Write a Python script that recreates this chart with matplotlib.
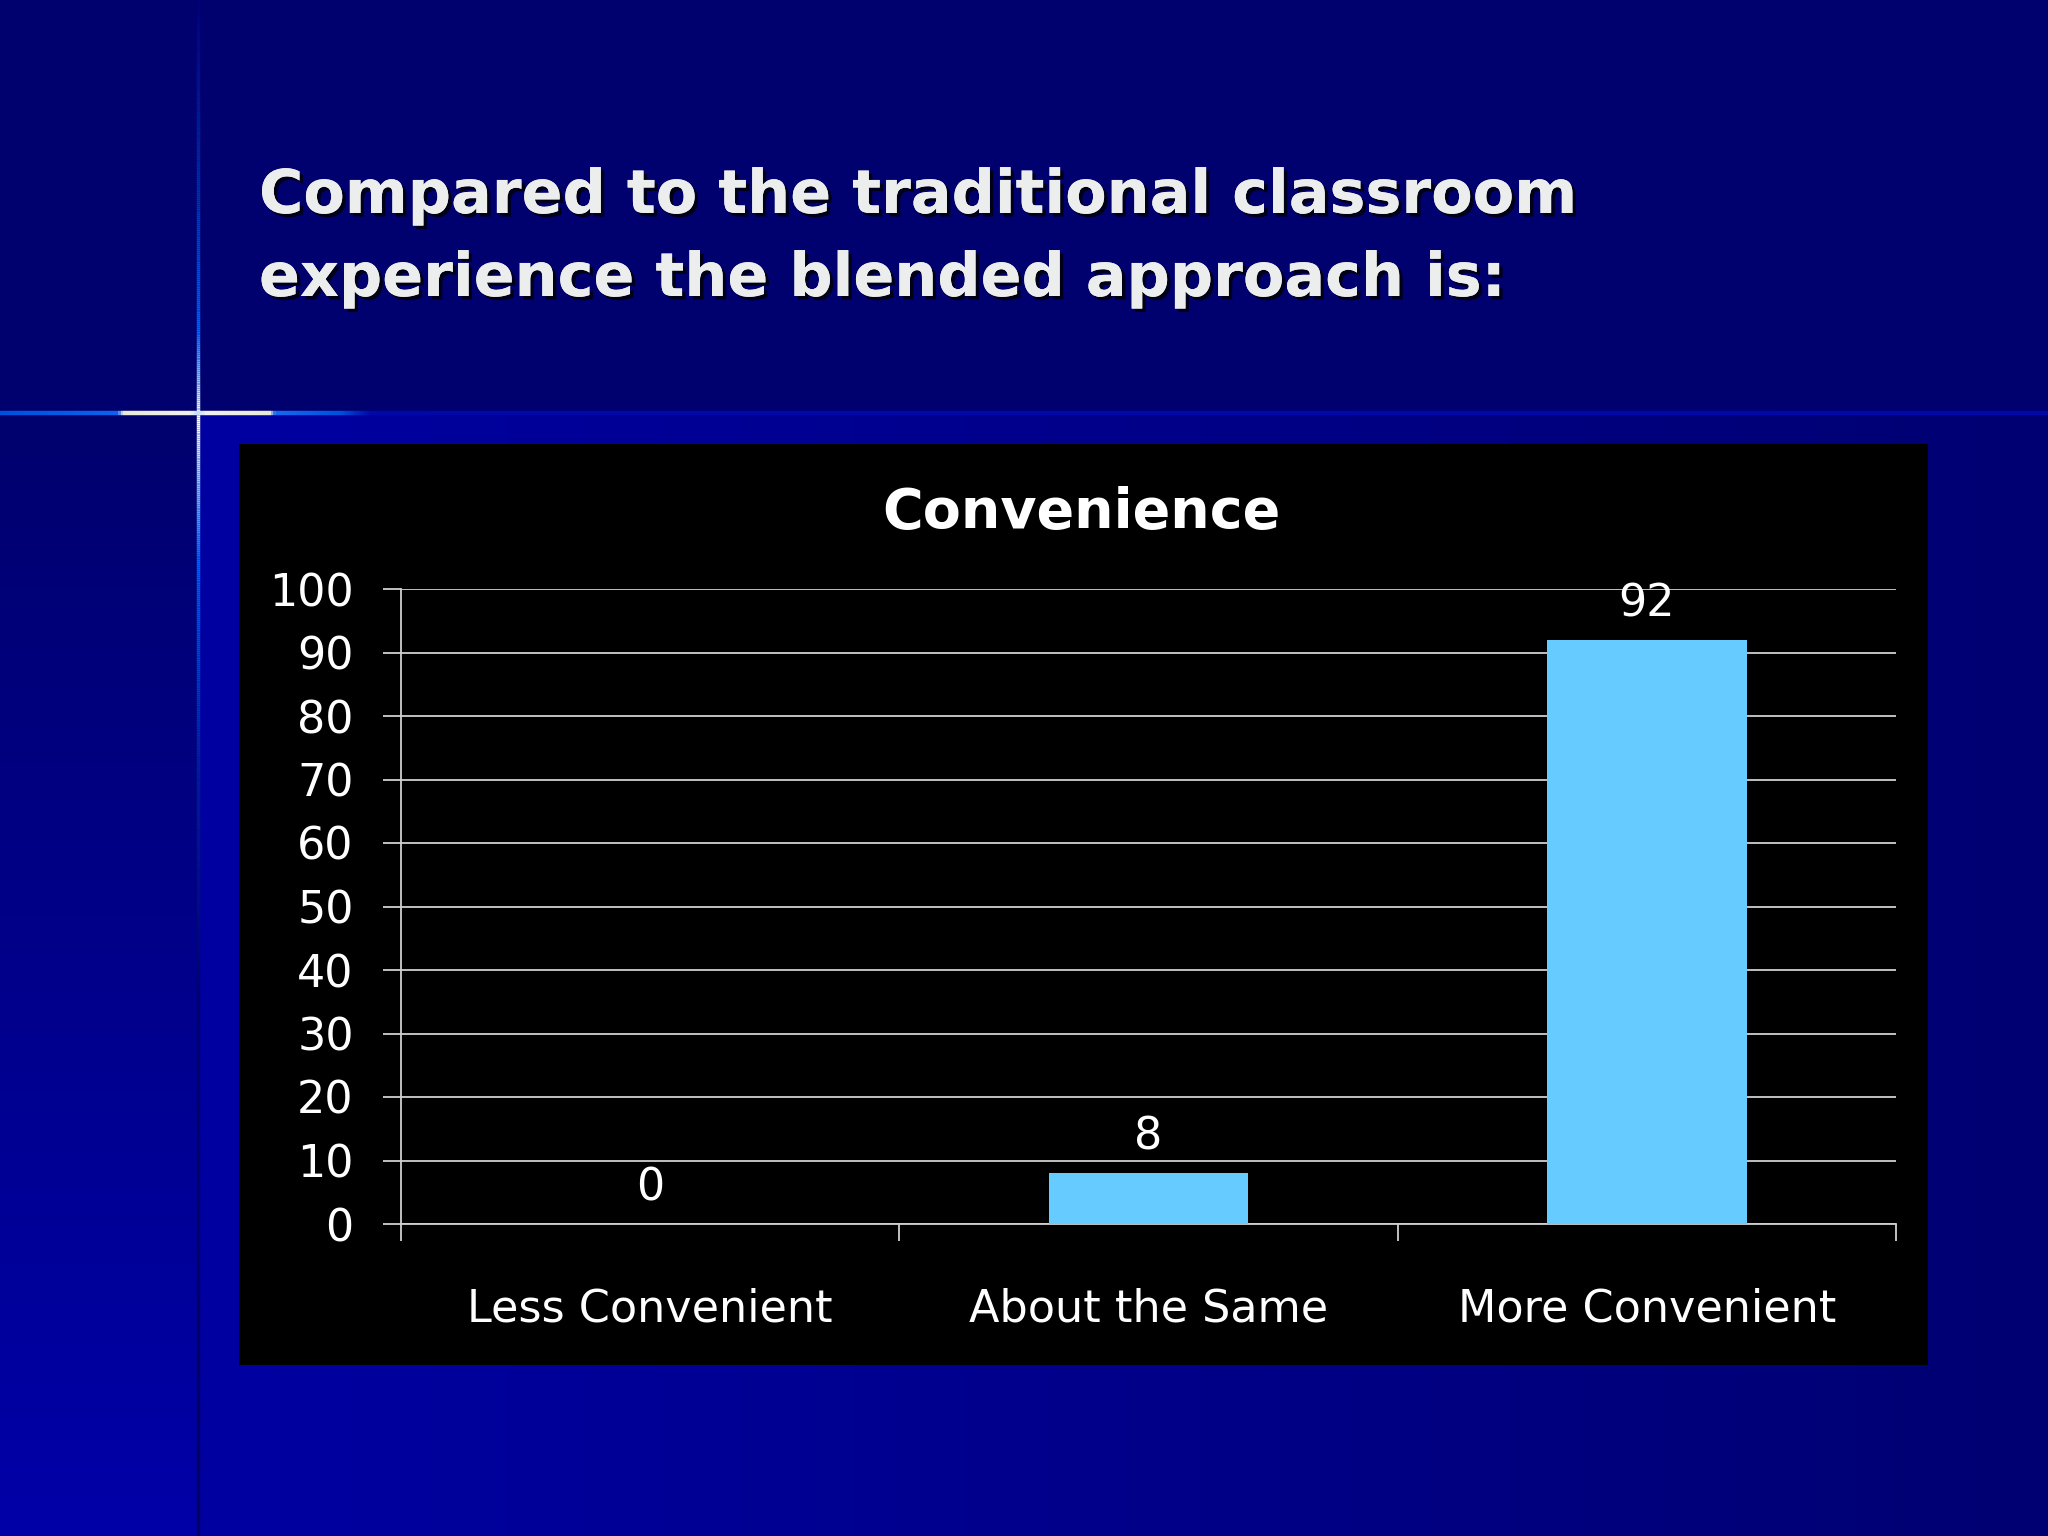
import numpy as np
import matplotlib
matplotlib.use('Agg')
import matplotlib.pyplot as plt
from matplotlib.collections import LineCollection
from matplotlib.colors import to_rgb
from matplotlib.patches import Rectangle
import matplotlib.patheffects as pe

# ---- data ----
categories = ['Less Convenient', 'About the Same', 'More Convenient']
values = [0, 8, 92]
yticks = list(range(0, 101, 10))
chart_title = 'Convenience'
slide_title = ['Compared to the traditional classroom',
               'experience the blended approach is:']

W, H = 2048, 1536
fig = plt.figure(figsize=(20.48, 15.36), dpi=100)

# ---- slide background ----
bg = fig.add_axes([0, 0, 1, 1])
bg.set_xlim(0, W)
bg.set_ylim(H, 0)
bg.axis('off')

img = np.zeros((H, W, 3))
yy, xx = np.mgrid[0:H, 0:W]
img[..., 2] = 0x6e / 255
lower = yy >= 413
right = xx >= 199
t = (xx - 199) / (W - 199)
blue_r = 0xa2 / 255 * (1 - t) + 0x72 / 255 * t
ch = img[..., 2]
m1 = lower & right
ch[m1] = blue_r[m1]
tv = (yy - 413) / (H - 413)
blue_l = 0x6e / 255 * (1 - tv) + 0xa8 / 255 * tv
m2 = lower & ~right
ch[m2] = blue_l[m2]
bg.imshow(img, extent=(0, W, H, 0), aspect='auto', interpolation='bilinear', zorder=0)


def grad_segments(pos, keys):
    kp = [k[0] for k in keys]
    cols = np.array([to_rgb(k[1]) for k in keys])
    mid = (pos[:-1] + pos[1:]) / 2
    c = np.stack([np.interp(mid, kp, cols[:, i]) for i in range(3)], axis=1)
    return c


# vertical line
ys = np.linspace(0, H, 800)
vcols = grad_segments(ys, [(0, '#00007a'), (200, '#0030b0'), (330, '#0060ff'),
                           (405, '#e0f0ff'), (420, '#ffffff'), (480, '#90c0ff'),
                           (560, '#0060ff'), (760, '#0020a0'), (1000, '#00006a'),
                           (1536, '#000060')])
vsegs = [[(198, ys[i]), (198, ys[i + 1])] for i in range(len(ys) - 1)]
bg.add_collection(LineCollection(vsegs, colors=vcols, linewidths=2.5, zorder=2))

# horizontal line
xs = np.linspace(0, W, 900)
hcols = grad_segments(xs, [(0, '#0050e0'), (118, '#1060f0'), (123, '#e8e8d8'),
                           (190, '#f0f0f0'), (198, '#c0d8ff'), (206, '#f0f0f0'),
                           (270, '#e8e8d8'), (275, '#1868f0'), (340, '#0050e0'),
                           (370, '#0008a8'), (2048, '#0008a8')])
hsegs = [[(xs[i], 413), (xs[i + 1], 413)] for i in range(len(xs) - 1)]
bg.add_collection(LineCollection(hsegs, colors=hcols, linewidths=3.2, zorder=2))

# black chart area
bg.add_patch(Rectangle((239, 444), 1928 - 239, 1365 - 444, facecolor='black',
                       edgecolor='none', zorder=3))

# ---- slide title ----
shadow = [pe.withSimplePatchShadow(offset=(2.5, -2.5), shadow_rgbFace='#000010', alpha=0.9),
          pe.Normal()]
for i, line in enumerate(slide_title):
    fig.text(259 / W, 1 - (213 + 83 * i) / H, line, ha='left', va='baseline',
             fontsize=43.5, fontweight='bold', color='#eceeee', path_effects=shadow)

# ---- chart ----
gc = '#d0d0d0'
ax = fig.add_axes([401 / W, 312 / H, (1896 - 401) / W, (1224 - 589) / H])
ax.set_facecolor('none')
x = np.arange(len(categories))
ax.bar(x, values, width=0.4, color='#66CCFF', zorder=3)
ax.set_xlim(-0.5, len(categories) - 0.5)
ax.set_ylim(0, 100)
ax.set_yticks(yticks)
ax.yaxis.grid(True, color=gc, linewidth=1.3)
ax.set_axisbelow(True)
for s in ['top', 'right']:
    ax.spines[s].set_visible(False)
for s in ['left', 'bottom']:
    ax.spines[s].set_color(gc)
    ax.spines[s].set_linewidth(1.3)
ax.tick_params(axis='y', direction='out', length=13, width=1.3, color=gc,
               labelcolor='white', labelsize=32, pad=21)
ax.set_xticks(x, categories)
ax.set_xticks(np.arange(len(categories) + 1) - 0.5, minor=True)
ax.tick_params(axis='x', which='major', length=0, labelcolor='white',
               labelsize=32, pad=46)
ax.tick_params(axis='x', which='minor', direction='out', length=12, width=1.3, color=gc)

for i, v in enumerate(values):
    ax.annotate(str(v), (i, v), xytext=(0, 17), textcoords='offset points',
                ha='center', va='baseline', color='white', fontsize=32, zorder=4)

fig.text(1081 / W, 1 - 528 / H, chart_title, ha='center', va='baseline',
         fontsize=40, fontweight='bold', color='white')

fig.savefig('out.png', dpi=100)
